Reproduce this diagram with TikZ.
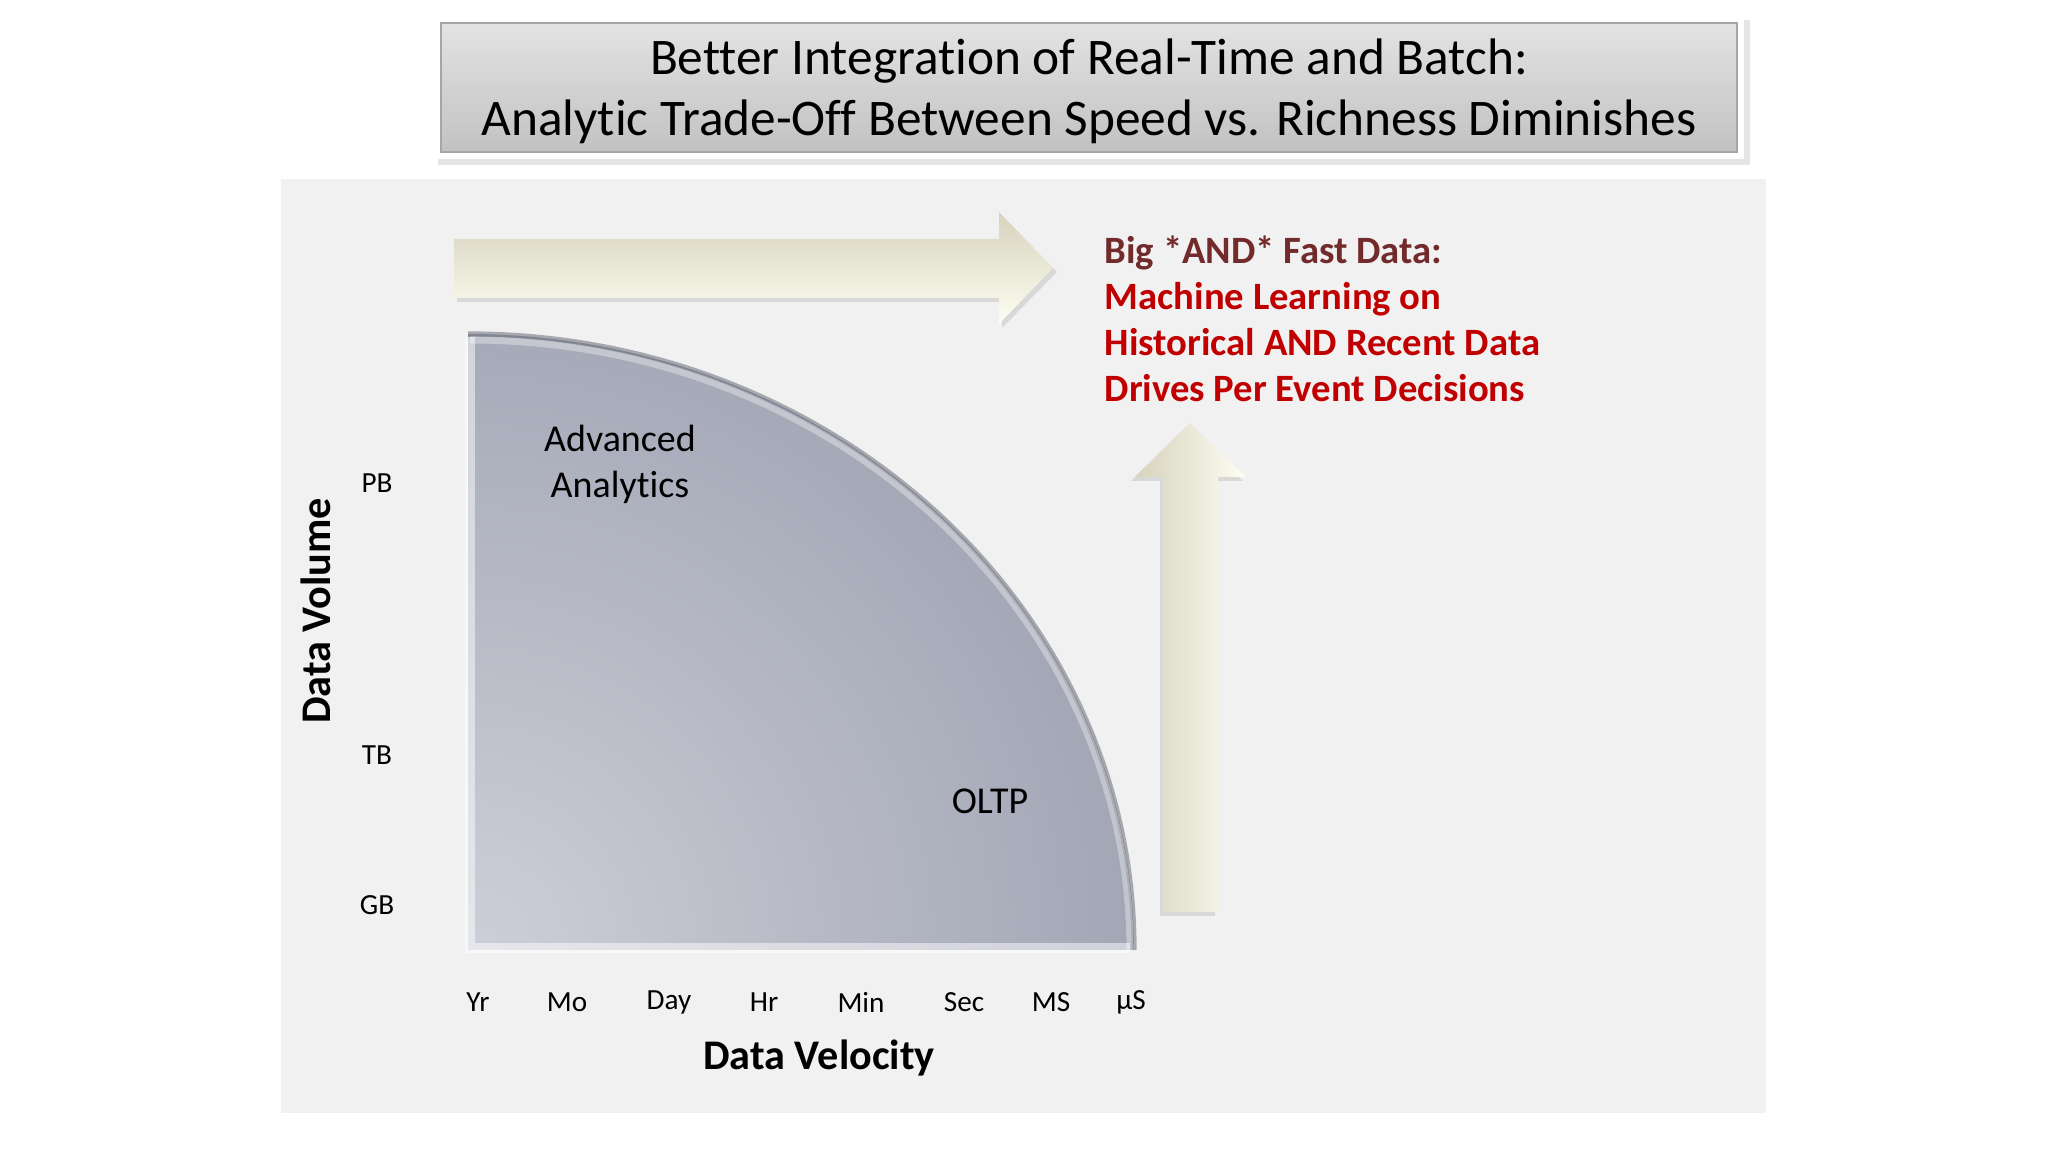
\documentclass[tikz,border=0pt]{standalone}
\usepackage{fontspec}
\setmainfont{Carlito}[Ligatures=NoCommon]
\usepackage{tikz}
\usetikzlibrary{positioning}

\definecolor{panelgray}{HTML}{F1F1F1}
\definecolor{capdark}{HTML}{D6D3BD}
\definecolor{caplight}{HTML}{FDFDF2}
\definecolor{diskin}{HTML}{CDCFD8}
\definecolor{diskout}{HTML}{868A9D}
\definecolor{headred}{HTML}{722A2A}
\definecolor{bodyred}{HTML}{C00000}

\begin{document}
\begin{tikzpicture}[x=0.01cm,y=0.01cm,
    tick/.style={font=\fontsize{8.3}{10}\selectfont},
    axis/.style={font=\bfseries\fontsize{12}{14}\selectfont},
    zone/.style={font=\fontsize{10.8}{13.1}\selectfont, align=center},
    blockshadow/.style={fill=black, opacity=0.10},
    titletext/.style={font=\fontsize{14.6}{17.4}\selectfont, align=center}]

    \useasboundingbox[fill=white] (0,0) rectangle (2048,1152);
    \fill[panelgray] (281,39) rectangle (1766,973);

    % title box
    \fill[blockshadow] (438,987) rectangle (1750,1132);
    \fill[white] (434,993) rectangle (1744,1136);
    \shade[top color=gray!22, middle color=gray!14, bottom color=gray!48, draw=gray!70]
        (441,1000) rectangle (1737,1129);
    \node[titletext] (title) at (1089,1061)
        {Better Integration of Real-Time and Batch:\\Analytic Trade-Off Between Speed vs. Richness Diminishes};

    % trade-off region
    \begin{scope}
        \clip (468,202) -- (468,818) arc[start angle=90, end angle=0, x radius=666, y radius=616] -- cycle;
        \shade[inner color=diskin, outer color=diskout] (468,202) circle (1120);
    \end{scope}
    \draw[line width=3, white, opacity=0.5] (470,815) -- (470,204) -- (1130,204);
    \draw[line width=1.5, diskout!70!black, opacity=0.5]
        (468,818) arc[start angle=90, end angle=0, x radius=666, y radius=616];
    \draw[line width=2, white, opacity=0.35]
        (470,812) arc[start angle=90, end angle=0, x radius=660, y radius=610];
    \node[zone] (adv) at (620,688) {Advanced\\Analytics};
    \node[zone] (oltp) at (990,351) {OLTP};

    % speed arrow
    \fill[blockshadow] (457,850) -- (1002,850) -- (1002,824) -- (1057,880) -- (1002,936) -- (1002,909) -- (457,909) -- cycle;
    \shade[top color=capdark, middle color=capdark!70!white, bottom color=caplight]
        (454,854) -- (999,854) -- (999,828) -- (1053,884) -- (999,940) -- (999,913) -- (454,913) -- cycle;

    % richness arrow
    \fill[blockshadow] (1160,236) -- (1160,671) -- (1131,671) -- (1187,726) -- (1243,671) -- (1215,671) -- (1215,236) -- cycle;
    \shade[left color=capdark, right color=caplight]
        (1163,240) -- (1163,675) -- (1135,675) -- (1190,729) -- (1246,675) -- (1218,675) -- (1218,240) -- cycle;

    % result
    \node[anchor=west, align=left, inner sep=0pt, font=\bfseries\fontsize{11}{13.1}\selectfont, text=bodyred] (result) at (1104,833)
        {\textcolor{headred}{Big *AND* Fast Data:}\\Machine Learning on\\Historical AND Recent Data\\Drives Per Event Decisions};

    % axes
    \node[axis, rotate=90] (vol) at (316,541) {Data Volume};
    \node[axis] (vel) at (819,94) {Data Velocity};

    \node[tick] (pb) at (377,669) {PB};
    \node[tick] (tb) at (377,397) {TB};
    \node[tick] (gb) at (377,247) {GB};

    \node[tick] (yr) at (478,150) {Yr};
    \node[tick] (mo) at (567,150) {Mo};
    \node[tick] (day) at (669,150) {Day};
    \node[tick] (hr) at (764,150) {Hr};
    \node[tick] (min) at (861,150) {Min};
    \node[tick] (sec) at (964,150) {Sec};
    \node[tick] (ms) at (1051,150) {MS};
    \node[tick] (us) at (1131,150) {µS};
\end{tikzpicture}
\end{document}
